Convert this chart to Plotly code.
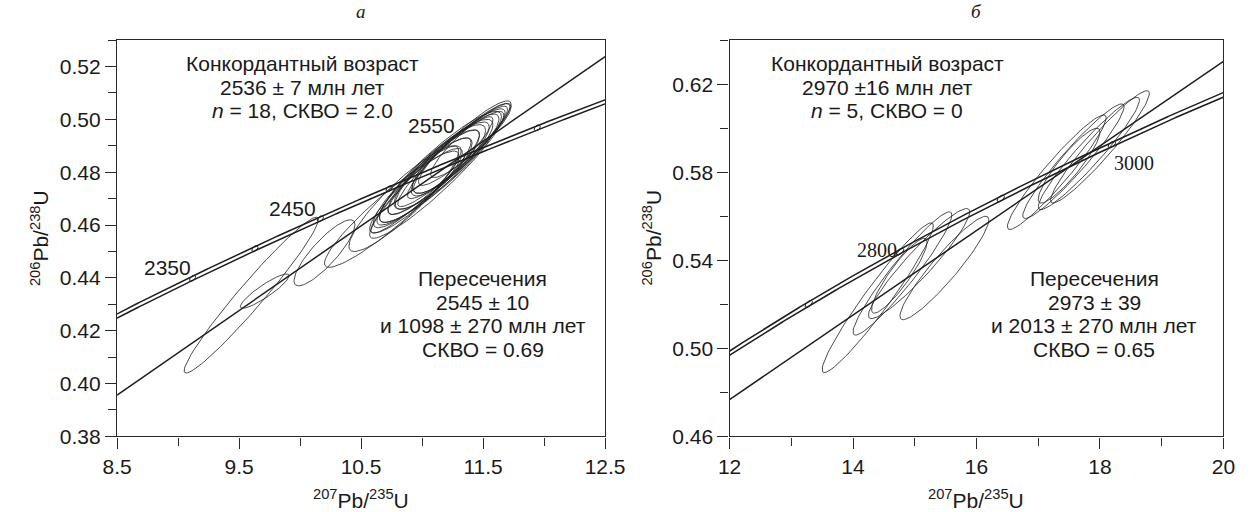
import numpy as np
import plotly.graph_objects as go

# ---------------- constants / data ----------------
L238 = 1.55125e-10
L235 = 9.8485e-10

# Panel a
a_marker_ages = [2350, 2400, 2450, 2500, 2550, 2600]
a_label_ages = ["2350", "2450", "2550"]
a_label_x = [8.914, 9.934, 11.074]
a_label_y = [0.4441, 0.4663, 0.4978]
a_intercepts = [2545, 1098]
a_cx = [11.15, 11.20, 11.10, 11.25, 11.05, 11.18, 11.30, 11.00, 11.12, 11.22, 11.08, 11.35,
        10.95, 11.16, 11.28, 11.02, 11.40, 11.12, 9.60, 9.71, 10.20, 10.75, 10.85]
a_cy = [0.482, 0.484, 0.480, 0.486, 0.478, 0.483, 0.488, 0.476, 0.481, 0.485, 0.479, 0.491,
        0.473, 0.482, 0.487, 0.477, 0.492, 0.479, 0.4335, 0.435, 0.4495, 0.466, 0.470]
a_sx = [0.50, 0.48, 0.45, 0.45, 0.42, 0.40, 0.42, 0.40, 0.35, 0.30, 0.50, 0.38,
        0.38, 0.25, 0.35, 0.30, 0.33, 0.55, 0.55, 0.20, 0.25, 0.55, 0.45]
a_sy = [0.021, 0.020, 0.019, 0.019, 0.018, 0.017, 0.018, 0.017, 0.015, 0.013, 0.022, 0.016,
        0.016, 0.011, 0.015, 0.013, 0.014, 0.024, 0.0295, 0.0065, 0.0125, 0.022, 0.020]
a_rho = [0.91, 0.93, 0.90, 0.94, 0.91, 0.88, 0.93, 0.90, 0.86, 0.83, 0.95, 0.92,
         0.90, 0.82, 0.88, 0.86, 0.91, 0.94, 0.97, 0.90, 0.85, 0.93, 0.90]
a_text_top = ["Конкордантный возраст", "2536 ± 7 млн лет", "<i>n</i> = 18, СКВО = 2.0"]
a_text_bot = ["Пересечения", "2545 ± 10", "и 1098 ± 270 млн лет", "СКВО = 0.69"]

# Panel b
b_marker_ages = [2700, 2800, 2900, 3000]
b_label_ages = ["2800", "3000"]
b_label_x = [14.394, 18.551]
b_label_y = [0.5447, 0.5843]
b_intercepts = [2973, 2013]
b_cx = [17.30, 17.57, 17.82, 18.00, 17.50, 14.40, 14.80, 15.07, 15.48, 14.75]
b_cy = [0.580, 0.585, 0.5885, 0.5915, 0.583, 0.523, 0.534, 0.5385, 0.5365, 0.533]
b_sx = [0.80, 0.82, 0.82, 0.80, 0.50, 0.90, 0.80, 0.82, 0.72, 0.45]
b_sy = [0.026, 0.026, 0.0255, 0.0255, 0.017, 0.034, 0.028, 0.025, 0.0235, 0.017]
b_rho = [0.95, 0.95, 0.95, 0.95, 0.90, 0.96, 0.95, 0.94, 0.93, 0.90]
b_text_top = ["Конкордантный возраст", "2970 ±16 млн лет", "<i>n</i> = 5, СКВО = 0"]
b_text_bot = ["Пересечения", "2973 ± 39", "и 2013 ± 270 млн лет", "СКВО = 0.65"]

# ---------------- helpers ----------------
SANS = "Liberation Sans, Arial, sans-serif"
SERIF = "Liberation Serif, Times New Roman, serif"
INK = "#1e1e1e"
W, H = 1258, 512


def conc(t_ma):
    t = np.asarray(t_ma, dtype=float) * 1e6
    return np.exp(L235 * t) - 1, np.exp(L238 * t) - 1


def ellipse(cx, cy, sx, sy, rho, n=90):
    th = np.linspace(0, 2 * np.pi, n)
    x = cx + sx * np.cos(th)
    y = cy + sy * (rho * np.cos(th) + np.sqrt(1 - rho ** 2) * np.sin(th))
    return x, y


def ellipses_trace(cx, cy, sx, sy, rho, xa, ya):
    xs, ys = [], []
    for i in range(len(cx)):
        x, y = ellipse(cx[i], cy[i], sx[i], sy[i], rho[i])
        xs += list(x) + [None]
        ys += list(y) + [None]
    return go.Scatter(x=xs, y=ys, mode="lines", line=dict(color=INK, width=0.8),
                      xaxis=xa, yaxis=ya, hoverinfo="skip", showlegend=False)


def concordia_traces(t0, t1, e, markers, h, xa, ya):
    t = np.linspace(t0, t1, 400)
    x, y = conc(t)
    tr = []
    for s in (-1, 1):
        tr.append(go.Scatter(x=x, y=y + s * e, mode="lines", line=dict(color=INK, width=1.5),
                             xaxis=xa, yaxis=ya, hoverinfo="skip", showlegend=False))
    mx, my = [], []
    th = np.linspace(0, 2 * np.pi, 40)
    for age in markers:
        cx, cy = conc(age)
        tt = age * 1e6
        slope = (L238 * np.exp(L238 * tt)) / (L235 * np.exp(L235 * tt))
        px = cx + h * np.cos(th)
        py = cy + h * slope * np.cos(th) + e * 1.25 * np.sin(th)
        mx += list(px) + [None]
        my += list(py) + [None]
    tr.append(go.Scatter(x=mx, y=my, mode="lines", line=dict(color=INK, width=1.0),
                         xaxis=xa, yaxis=ya, hoverinfo="skip", showlegend=False))
    return tr


def discordia_trace(ages, xr, xa, ya):
    x1, y1 = conc(ages[0])
    x2, y2 = conc(ages[1])
    k = (y1 - y2) / (x1 - x2)
    xs = np.array(xr)
    ys = y2 + k * (xs - x2)
    return go.Scatter(x=xs, y=ys, mode="lines", line=dict(color=INK, width=1.5),
                      xaxis=xa, yaxis=ya, hoverinfo="skip", showlegend=False)


fig = go.Figure()

# panel a
XA = [8.5, 12.5]
YA = [0.38, 0.53]
fig.add_trace(ellipses_trace(a_cx, a_cy, a_sx, a_sy, a_rho, "x", "y"))
for tr in concordia_traces(2250, 2680, 0.0008, a_marker_ages, 0.025, "x", "y"):
    fig.add_trace(tr)
fig.add_trace(discordia_trace(a_intercepts, XA, "x", "y"))

# panel b
XB = [12, 20]
YB = [0.46, 0.64]
fig.add_trace(ellipses_trace(b_cx, b_cy, b_sx, b_sy, b_rho, "x2", "y2"))
for tr in concordia_traces(2550, 3150, 0.0010, b_marker_ages, 0.06, "x2", "y2"):
    fig.add_trace(tr)
fig.add_trace(discordia_trace(b_intercepts, XB, "x2", "y2"))

# ---------------- axes ----------------
ydom = [1 - 446 / H, 1 - 41 / H]


def axis(rng, dom, dtick, tick0, mdtick, fmt, anchor):
    return dict(range=rng, domain=dom, anchor=anchor, showgrid=False, zeroline=False,
                showline=True, linecolor="#2a2a2a", linewidth=1.4, mirror=True,
                ticks="outside", ticklen=11, tickwidth=1.1, tickcolor="#2a2a2a",
                tickmode="linear", tick0=tick0, dtick=dtick, tickformat=fmt,
                tickfont=dict(family=SANS, size=21, color="#1a1a1a"),
                minor=dict(ticks="outside", ticklen=8, tickwidth=1.1, tickcolor="#2a2a2a",
                           tick0=tick0, dtick=mdtick, showgrid=False))


fig.update_layout(
    width=W, height=H, margin=dict(l=0, r=0, t=0, b=0),
    paper_bgcolor="white", plot_bgcolor="white", showlegend=False,
    xaxis=axis(XA, [105 / W, 607 / W], 1, 8.5, 0.5, ".1f", "y"),
    yaxis=axis(YA, ydom, 0.02, 0.38, 0.01, ".2f", "x"),
    xaxis2=axis(XB, [735 / W, 1243 / W], 2, 12, 1, "d", "y2"),
    yaxis2=axis(YB, ydom, 0.04, 0.46, 0.02, ".2f", "x2"),
)

ann = []


def ptxt(text, px, py, size=21, family=SANS, angle=0, italic=False):
    ann.append(dict(text=text, x=px / W, y=1 - py / H, xref="paper", yref="paper",
                    xanchor="center", yanchor="middle", showarrow=False, textangle=angle,
                    font=dict(family=family, size=size, color="#1a1a1a",
                              style="italic" if italic else "normal")))


def dtxt(text, x, y, xr, yr, size=21, family=SANS):
    ann.append(dict(text=text, x=x, y=y, xref=xr, yref=yr, xanchor="center",
                    yanchor="middle", showarrow=False,
                    font=dict(family=family, size=size, color="#1a1a1a")))


# panel titles
ptxt("а", 356, 12, size=19, family=SERIF, italic=True)
ptxt("б", 989, 12, size=19, family=SERIF, italic=True)

# axis titles
ytitle = "<sup>206</sup>Pb/<sup>238</sup>U"
xtitle = "<sup>207</sup>Pb/<sup>235</sup>U"
ptxt(ytitle, 25, 243, angle=-90)
ptxt(ytitle, 655, 243, angle=-90)
ptxt(xtitle, 356, 510)
ptxt(xtitle, 989, 510)

# text blocks
for i, t in enumerate(a_text_top):
    ptxt(t, 296, 65 + 24 * i)
for i, t in enumerate(a_text_bot):
    ptxt(t, 481, 285 + 24 * i)
for i, t in enumerate(b_text_top):
    ptxt(t, 897, 65 + 24 * i)
for i, t in enumerate(b_text_bot):
    ptxt(t, 1110, 285 + 24 * i)

# age labels
for s, x, y in zip(a_label_ages, a_label_x, a_label_y):
    dtxt(s, x, y, "x", "y", size=21, family=SANS)
for s, x, y in zip(b_label_ages, b_label_x, b_label_y):
    dtxt(s, x, y, "x2", "y2", size=20, family=SERIF)

fig.update_layout(annotations=ann)
fig.write_html("out.html")
